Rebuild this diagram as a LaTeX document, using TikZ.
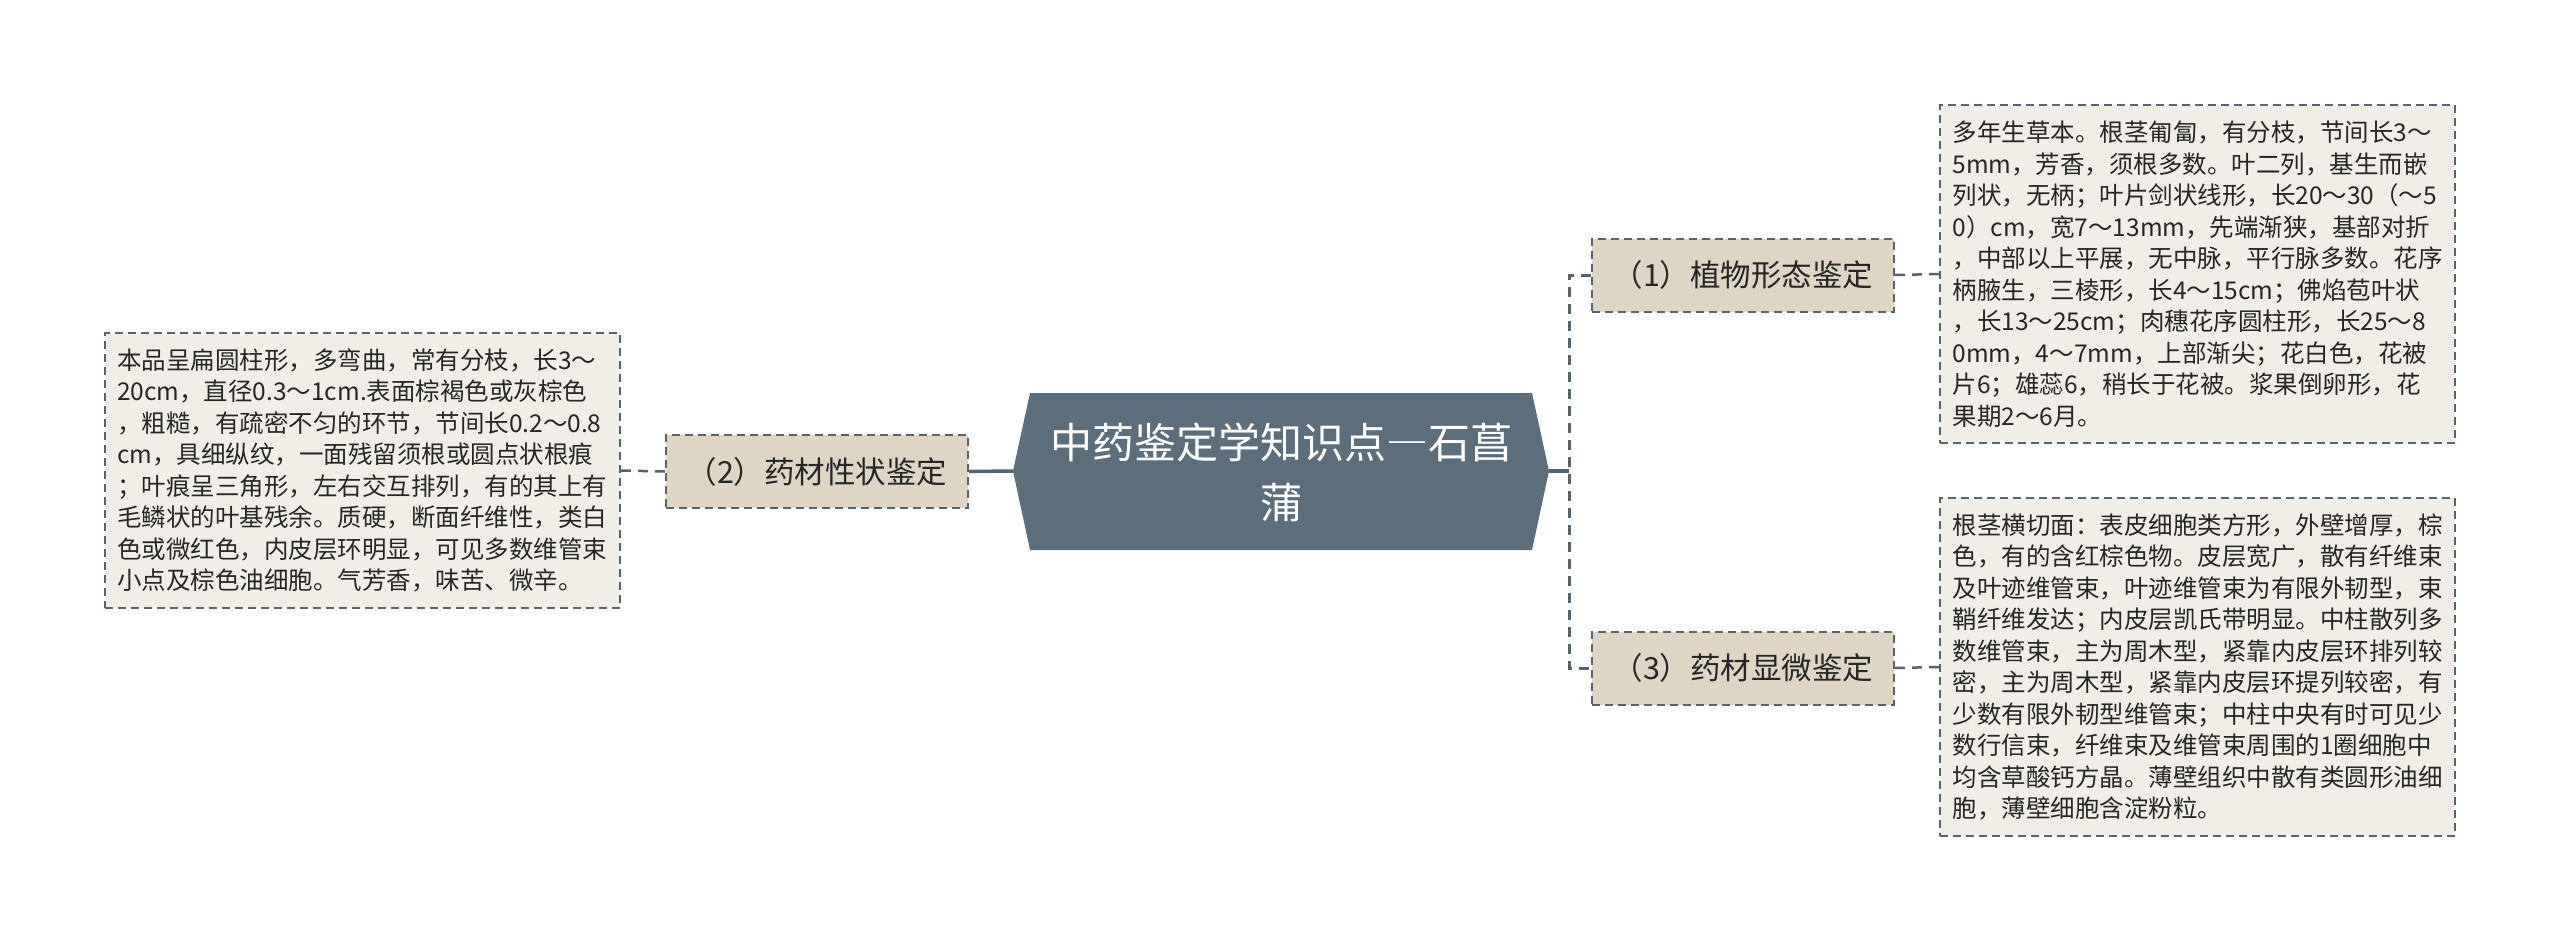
\documentclass[tikz,border=0pt]{standalone}
\usepackage{fontspec}
\setmainfont{Noto Sans CJK SC}
\definecolor{slate}{HTML}{56646F}
\definecolor{cfill}{HTML}{5C6E7B}
\definecolor{lfill}{HTML}{DED5C5}
\definecolor{tfill}{HTML}{F1EEE8}
\definecolor{ink}{HTML}{262626}
\tikzset{
  lone/.style={draw=slate, line width=2pt, dash pattern=on 8pt off 5pt, fill=lfill,
    minimum width=302pt, minimum height=73pt, inner sep=0pt, text=ink,
    font=\fontsize{30.5}{36}\selectfont},
  tbox/.style={draw=slate, line width=2pt, dash pattern=on 8pt off 5pt, fill=tfill,
    text width=490pt, align=left, inner xsep=12.5pt, inner ysep=0pt, text=ink,
    font=\fontsize{24.5}{31.5}\selectfont},
  solidlink/.style={draw=slate, line width=3.5pt},
  dlink/.style={draw=slate, line width=2.5pt, dash pattern=on 10pt off 7pt},
  vlink/.style={draw=slate, line width=3pt, dash pattern=on 10pt off 7pt},
}
\begin{document}
\begin{tikzpicture}[x=1pt,y=-1pt]
\useasboundingbox (0,0) rectangle (2560,943);
\fill[white] (0,0) rectangle (2560,943);
% central node
\coordinate (cL) at (1013,471);
\coordinate (cR) at (1549,471);
\fill[cfill] (cL) -- (1030,393) -- (1532,393) -- (cR) -- (1532,550) -- (1030,550) -- cycle;
\node[text=white, align=center, font=\fontsize{42}{60}\selectfont] (c) at (1281,472)
  {中药鉴定学知识点{\addfontfeatures{RawFeature=+fwid}—}石菖\\蒲};
% level-1 nodes
\node[lone] (n1) at (1743,275) {（1）植物形态鉴定};
\node[lone] (n2) at (817,471.5) {（2）药材性状鉴定};
\node[lone] (n3) at (1743,668) {（3）药材显微鉴定};
% text boxes
\node[tbox, minimum height=338pt] (t1) at (2197.5,274) {%
多年生草本。根茎匍匐，有分枝，节间长3～\\
5mm，芳香，须根多数。叶二列，基生而嵌\\
列状，无柄；叶片剑状线形，长20～30（～5\\
0）cm，宽7～13mm，先端渐狭，基部对折\\
，中部以上平展，无中脉，平行脉多数。花序\\
柄腋生，三棱形，长4～15cm；佛焰苞叶状\\
，长13～25cm；肉穗花序圆柱形，长25～8\\
0mm，4～7mm，上部渐尖；花白色，花被\\
片6；雄蕊6，稍长于花被。浆果倒卵形，花\\
果期2～6月。};
\node[tbox, minimum height=275pt] (t2) at (362,470.5) {%
本品呈扁圆柱形，多弯曲，常有分枝，长3～\\
20cm，直径0.3～1cm.表面棕褐色或灰棕色\\
，粗糙，有疏密不匀的环节，节间长0.2～0.8\\
cm，具细纵纹，一面残留须根或圆点状根痕\\
；叶痕呈三角形，左右交互排列，有的其上有\\
毛鳞状的叶基残余。质硬，断面纤维性，类白\\
色或微红色，内皮层环明显，可见多数维管束\\
小点及棕色油细胞。气芳香，味苦、微辛。};
\node[tbox, minimum height=338pt] (t3) at (2197.5,667) {%
根茎横切面：表皮细胞类方形，外壁增厚，棕\\
色，有的含红棕色物。皮层宽广，散有纤维束\\
及叶迹维管束，叶迹维管束为有限外韧型，束\\
鞘纤维发达；内皮层凯氏带明显。中柱散列多\\
数维管束，主为周木型，紧靠内皮层环排列较\\
密，主为周木型，紧靠内皮层环提列较密，有\\
少数有限外韧型维管束；中柱中央有时可见少\\
数行信束，纤维束及维管束周围的1圈细胞中\\
均含草酸钙方晶。薄壁组织中散有类圆形油细\\
胞，薄壁细胞含淀粉粒。};
% connectors
\coordinate (jR) at (1569,471);
\draw[solidlink] (cR) -- (jR);
\draw[vlink] (n1.west) -- (n1.west -| jR) -- (n3.west -| jR) -- (n3.west);
\draw[solidlink] (cL) -- (n2.east);
\draw[dlink] (n2.west) -- (t2.east);
\draw[dlink] (n1.east) -- (t1.west);
\draw[dlink] (n3.east) -- (t3.west);
\end{tikzpicture}
\end{document}
